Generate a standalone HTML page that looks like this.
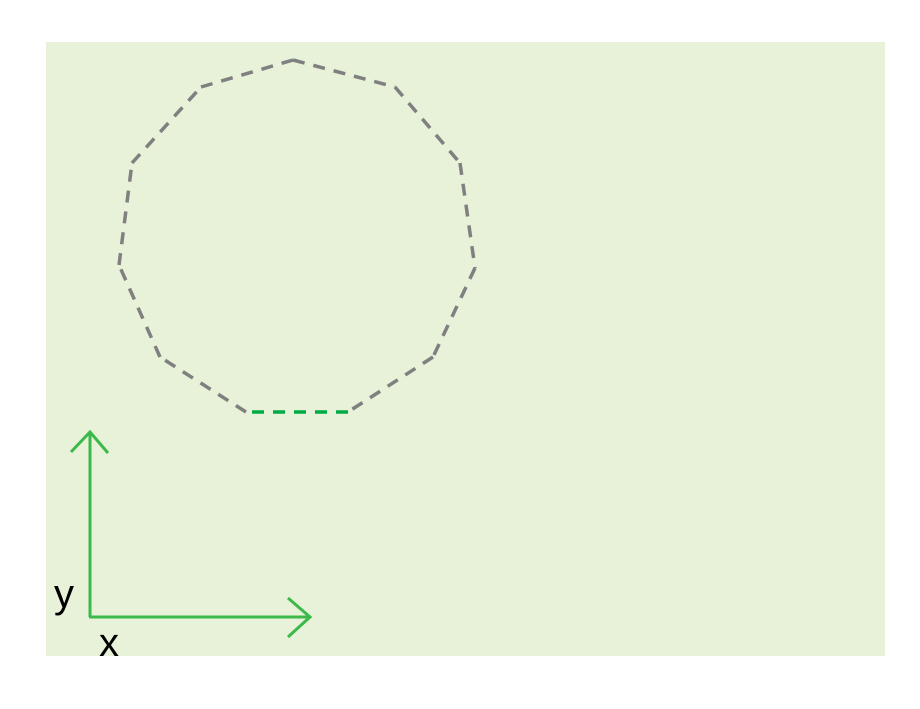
<!DOCTYPE html>
<html><head><meta charset="utf-8"><style>
html,body{margin:0;padding:0;background:#fff;}
svg{display:block;font-family:"Liberation Sans","DejaVu Sans",sans-serif;}
</style></head><body>
<svg width="920" height="709" viewBox="0 0 920 709">
<rect x="46" y="42" width="839" height="614" fill="#e7f2d9"/>
<g id="poly"></g>
<g stroke="#3cb94a" stroke-width="3" fill="none">
<line x1="90" y1="617" x2="90" y2="432"/>
<polyline points="71,452 90,432 108,453"/>
<line x1="89" y1="617" x2="310" y2="617"/>
<polyline points="288,598 310,617 288,637"/>
</g>
<text x="54" y="607" font-size="40" fill="#000">y</text>
<text x="99" y="656" font-size="40" fill="#000">x</text>
</svg>
<script>
const vertexX=[293,395,460,475,433,348,246,160,119,132,201];
const vertexY=[60,87,163,268,357,412,412,357,265,163,87];
const g=document.getElementById('poly');
const ns='http://www.w3.org/2000/svg';
for(let i=0;i<vertexX.length;i++){
  const j=(i+1)%vertexX.length;
  const l=document.createElementNS(ns,'line');
  l.setAttribute('x1',vertexX[i]);l.setAttribute('y1',vertexY[i]);
  l.setAttribute('x2',vertexX[j]);l.setAttribute('y2',vertexY[j]);
  const bottom=(i===5);
  l.setAttribute('stroke',bottom?'#00aa44':'#808080');
  l.setAttribute('stroke-width','3.5');
  l.setAttribute('stroke-dasharray','12,9');
  
  
  g.appendChild(l);
}
</script>
</body></html>
